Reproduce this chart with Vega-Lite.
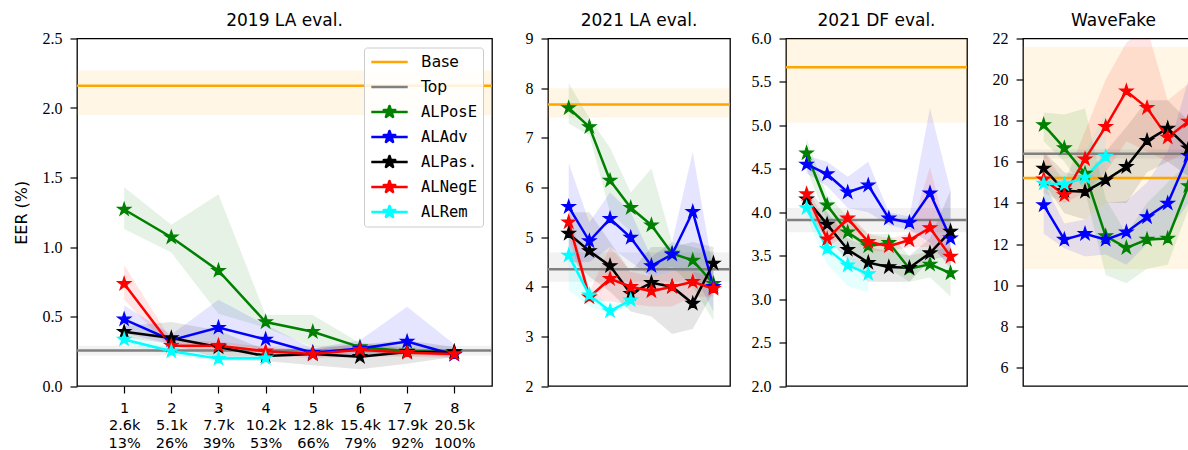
{
  "$schema": "https://vega.github.io/schema/vega-lite/v6.json",
  "padding": {"left": 12, "top": 10.5, "right": 0, "bottom": 0},
  "background": "white",
  "spacing": 16,
  "datasets": {
    "refs": [
      {"p": "LA19", "m": "Base", "y": 2.16, "lo": 1.95, "hi": 2.27},
      {"p": "LA19", "m": "Top", "y": 0.255, "lo": 0.22, "hi": 0.29},
      {"p": "LA21", "m": "Base", "y": 7.67, "lo": 7.41, "hi": 8.0},
      {"p": "LA21", "m": "Top", "y": 4.35, "lo": 4.1, "hi": 4.69},
      {"p": "DF21", "m": "Base", "y": 5.67, "lo": 5.03, "hi": 6.4},
      {"p": "DF21", "m": "Top", "y": 3.91, "lo": 3.77, "hi": 4.05},
      {"p": "WF", "m": "Base", "y": 15.21, "lo": 10.79, "hi": 21.6},
      {"p": "WF", "m": "Top", "y": 16.4, "lo": 16.17, "hi": 16.6}
    ],
    "runs": [
      {"p": "LA19", "m": "ALPosE", "x": 1, "y": 1.27, "lo": 1.13, "hi": 1.43},
      {"p": "LA19", "m": "ALPosE", "x": 2, "y": 1.07, "lo": 0.96, "hi": 1.16},
      {"p": "LA19", "m": "ALPosE", "x": 3, "y": 0.83, "lo": 0.52, "hi": 1.38},
      {"p": "LA19", "m": "ALPosE", "x": 4, "y": 0.46, "lo": 0.42, "hi": 0.51},
      {"p": "LA19", "m": "ALPosE", "x": 5, "y": 0.39, "lo": 0.28, "hi": 0.51},
      {"p": "LA19", "m": "ALPosE", "x": 6, "y": 0.28, "lo": 0.24, "hi": 0.31},
      {"p": "LA19", "m": "ALPosE", "x": 7, "y": 0.25, "lo": 0.22, "hi": 0.27},
      {"p": "LA19", "m": "ALPosE", "x": 8, "y": 0.245, "lo": 0.22, "hi": 0.26},
      {"p": "LA19", "m": "ALAdv", "x": 1, "y": 0.48, "lo": 0.38, "hi": 0.58},
      {"p": "LA19", "m": "ALAdv", "x": 2, "y": 0.33, "lo": 0.3, "hi": 0.37},
      {"p": "LA19", "m": "ALAdv", "x": 3, "y": 0.42, "lo": 0.3, "hi": 0.62},
      {"p": "LA19", "m": "ALAdv", "x": 4, "y": 0.335, "lo": 0.27, "hi": 0.44},
      {"p": "LA19", "m": "ALAdv", "x": 5, "y": 0.24, "lo": 0.21, "hi": 0.27},
      {"p": "LA19", "m": "ALAdv", "x": 6, "y": 0.27, "lo": 0.22, "hi": 0.33},
      {"p": "LA19", "m": "ALAdv", "x": 7, "y": 0.32, "lo": 0.25, "hi": 0.57},
      {"p": "LA19", "m": "ALAdv", "x": 8, "y": 0.225, "lo": 0.2, "hi": 0.3},
      {"p": "LA19", "m": "ALPas.", "x": 1, "y": 0.39, "lo": 0.35, "hi": 0.43},
      {"p": "LA19", "m": "ALPas.", "x": 2, "y": 0.345, "lo": 0.3, "hi": 0.46},
      {"p": "LA19", "m": "ALPas.", "x": 3, "y": 0.28, "lo": 0.2, "hi": 0.4},
      {"p": "LA19", "m": "ALPas.", "x": 4, "y": 0.215, "lo": 0.18, "hi": 0.26},
      {"p": "LA19", "m": "ALPas.", "x": 5, "y": 0.23, "lo": 0.15, "hi": 0.27},
      {"p": "LA19", "m": "ALPas.", "x": 6, "y": 0.21, "lo": 0.12, "hi": 0.3},
      {"p": "LA19", "m": "ALPas.", "x": 7, "y": 0.245, "lo": 0.16, "hi": 0.33},
      {"p": "LA19", "m": "ALPas.", "x": 8, "y": 0.245, "lo": 0.21, "hi": 0.28},
      {"p": "LA19", "m": "ALNegE", "x": 1, "y": 0.735, "lo": 0.62, "hi": 0.87},
      {"p": "LA19", "m": "ALNegE", "x": 2, "y": 0.29, "lo": 0.26, "hi": 0.33},
      {"p": "LA19", "m": "ALNegE", "x": 3, "y": 0.29, "lo": 0.26, "hi": 0.32},
      {"p": "LA19", "m": "ALNegE", "x": 4, "y": 0.25, "lo": 0.22, "hi": 0.28},
      {"p": "LA19", "m": "ALNegE", "x": 5, "y": 0.23, "lo": 0.2, "hi": 0.26},
      {"p": "LA19", "m": "ALNegE", "x": 6, "y": 0.26, "lo": 0.21, "hi": 0.31},
      {"p": "LA19", "m": "ALNegE", "x": 7, "y": 0.24, "lo": 0.21, "hi": 0.27},
      {"p": "LA19", "m": "ALNegE", "x": 8, "y": 0.23, "lo": 0.2, "hi": 0.26},
      {"p": "LA19", "m": "ALRem", "x": 1, "y": 0.335, "lo": 0.3, "hi": 0.37},
      {"p": "LA19", "m": "ALRem", "x": 2, "y": 0.25, "lo": 0.22, "hi": 0.28},
      {"p": "LA19", "m": "ALRem", "x": 3, "y": 0.197, "lo": 0.18, "hi": 0.22},
      {"p": "LA19", "m": "ALRem", "x": 4, "y": 0.2, "lo": 0.18, "hi": 0.22},

      {"p": "LA21", "m": "ALPosE", "x": 1, "y": 7.6, "lo": 7.29, "hi": 8.1},
      {"p": "LA21", "m": "ALPosE", "x": 2, "y": 7.22, "lo": 7.05, "hi": 7.4},
      {"p": "LA21", "m": "ALPosE", "x": 3, "y": 6.14, "lo": 5.5, "hi": 6.8},
      {"p": "LA21", "m": "ALPosE", "x": 4, "y": 5.59, "lo": 5.1, "hi": 5.9},
      {"p": "LA21", "m": "ALPosE", "x": 5, "y": 5.24, "lo": 4.3, "hi": 6.38},
      {"p": "LA21", "m": "ALPosE", "x": 6, "y": 4.67, "lo": 4.4, "hi": 4.9},
      {"p": "LA21", "m": "ALPosE", "x": 7, "y": 4.53, "lo": 4.0, "hi": 4.8},
      {"p": "LA21", "m": "ALPosE", "x": 8, "y": 4.06, "lo": 3.32, "hi": 4.7},
      {"p": "LA21", "m": "ALAdv", "x": 1, "y": 5.61, "lo": 4.5, "hi": 6.49},
      {"p": "LA21", "m": "ALAdv", "x": 2, "y": 4.92, "lo": 4.5, "hi": 5.3},
      {"p": "LA21", "m": "ALAdv", "x": 3, "y": 5.37, "lo": 4.8, "hi": 5.9},
      {"p": "LA21", "m": "ALAdv", "x": 4, "y": 4.99, "lo": 4.5, "hi": 5.5},
      {"p": "LA21", "m": "ALAdv", "x": 5, "y": 4.42, "lo": 4.2, "hi": 4.6},
      {"p": "LA21", "m": "ALAdv", "x": 6, "y": 4.65, "lo": 4.3, "hi": 4.9},
      {"p": "LA21", "m": "ALAdv", "x": 7, "y": 5.51, "lo": 4.3, "hi": 6.72},
      {"p": "LA21", "m": "ALAdv", "x": 8, "y": 4.0, "lo": 3.5, "hi": 4.3},
      {"p": "LA21", "m": "ALPas.", "x": 1, "y": 5.07, "lo": 4.6, "hi": 5.5},
      {"p": "LA21", "m": "ALPas.", "x": 2, "y": 4.72, "lo": 4.2, "hi": 5.5},
      {"p": "LA21", "m": "ALPas.", "x": 3, "y": 4.42, "lo": 3.9, "hi": 4.9},
      {"p": "LA21", "m": "ALPas.", "x": 4, "y": 3.86, "lo": 3.5, "hi": 4.3},
      {"p": "LA21", "m": "ALPas.", "x": 5, "y": 4.08, "lo": 3.4, "hi": 4.8},
      {"p": "LA21", "m": "ALPas.", "x": 6, "y": 4.0, "lo": 3.05, "hi": 4.8},
      {"p": "LA21", "m": "ALPas.", "x": 7, "y": 3.66, "lo": 3.15, "hi": 4.9},
      {"p": "LA21", "m": "ALPas.", "x": 8, "y": 4.47, "lo": 3.9, "hi": 4.8},
      {"p": "LA21", "m": "ALNegE", "x": 1, "y": 5.3, "lo": 5.0, "hi": 5.6},
      {"p": "LA21", "m": "ALNegE", "x": 2, "y": 3.79, "lo": 3.7, "hi": 3.9},
      {"p": "LA21", "m": "ALNegE", "x": 3, "y": 4.16, "lo": 3.7, "hi": 4.8},
      {"p": "LA21", "m": "ALNegE", "x": 4, "y": 4.0, "lo": 3.65, "hi": 4.3},
      {"p": "LA21", "m": "ALNegE", "x": 5, "y": 3.91, "lo": 3.6, "hi": 4.2},
      {"p": "LA21", "m": "ALNegE", "x": 6, "y": 4.0, "lo": 3.6, "hi": 4.3},
      {"p": "LA21", "m": "ALNegE", "x": 7, "y": 4.1, "lo": 3.8, "hi": 4.3},
      {"p": "LA21", "m": "ALNegE", "x": 8, "y": 3.96, "lo": 3.8, "hi": 4.2},
      {"p": "LA21", "m": "ALRem", "x": 1, "y": 4.63, "lo": 3.93, "hi": 5.0},
      {"p": "LA21", "m": "ALRem", "x": 2, "y": 3.83, "lo": 3.6, "hi": 4.0},
      {"p": "LA21", "m": "ALRem", "x": 3, "y": 3.51, "lo": 3.45, "hi": 3.6},
      {"p": "LA21", "m": "ALRem", "x": 4, "y": 3.73, "lo": 3.6, "hi": 3.85},

      {"p": "DF21", "m": "ALPosE", "x": 1, "y": 4.68, "lo": 4.5, "hi": 4.85},
      {"p": "DF21", "m": "ALPosE", "x": 2, "y": 4.08, "lo": 3.9, "hi": 4.2},
      {"p": "DF21", "m": "ALPosE", "x": 3, "y": 3.77, "lo": 3.6, "hi": 3.95},
      {"p": "DF21", "m": "ALPosE", "x": 4, "y": 3.61, "lo": 3.4, "hi": 3.75},
      {"p": "DF21", "m": "ALPosE", "x": 5, "y": 3.65, "lo": 3.35, "hi": 3.75},
      {"p": "DF21", "m": "ALPosE", "x": 6, "y": 3.35, "lo": 3.2, "hi": 3.5},
      {"p": "DF21", "m": "ALPosE", "x": 7, "y": 3.4, "lo": 3.25, "hi": 3.55},
      {"p": "DF21", "m": "ALPosE", "x": 8, "y": 3.3, "lo": 3.03, "hi": 3.6},
      {"p": "DF21", "m": "ALAdv", "x": 1, "y": 4.55, "lo": 4.45, "hi": 4.65},
      {"p": "DF21", "m": "ALAdv", "x": 2, "y": 4.44, "lo": 4.3, "hi": 4.58},
      {"p": "DF21", "m": "ALAdv", "x": 3, "y": 4.23, "lo": 4.05, "hi": 4.41},
      {"p": "DF21", "m": "ALAdv", "x": 4, "y": 4.31, "lo": 4.0, "hi": 4.58},
      {"p": "DF21", "m": "ALAdv", "x": 5, "y": 3.93, "lo": 3.85, "hi": 4.0},
      {"p": "DF21", "m": "ALAdv", "x": 6, "y": 3.88, "lo": 3.8, "hi": 3.95},
      {"p": "DF21", "m": "ALAdv", "x": 7, "y": 4.22, "lo": 3.65, "hi": 5.2},
      {"p": "DF21", "m": "ALAdv", "x": 8, "y": 3.7, "lo": 3.35, "hi": 4.25},
      {"p": "DF21", "m": "ALPas.", "x": 1, "y": 4.15, "lo": 4.0, "hi": 4.3},
      {"p": "DF21", "m": "ALPas.", "x": 2, "y": 3.86, "lo": 3.7, "hi": 4.0},
      {"p": "DF21", "m": "ALPas.", "x": 3, "y": 3.57, "lo": 3.45, "hi": 3.7},
      {"p": "DF21", "m": "ALPas.", "x": 4, "y": 3.42, "lo": 3.2, "hi": 3.6},
      {"p": "DF21", "m": "ALPas.", "x": 5, "y": 3.37, "lo": 3.2, "hi": 3.55},
      {"p": "DF21", "m": "ALPas.", "x": 6, "y": 3.36, "lo": 3.2, "hi": 3.5},
      {"p": "DF21", "m": "ALPas.", "x": 7, "y": 3.53, "lo": 3.45, "hi": 3.7},
      {"p": "DF21", "m": "ALPas.", "x": 8, "y": 3.78, "lo": 3.5, "hi": 4.25},
      {"p": "DF21", "m": "ALNegE", "x": 1, "y": 4.21, "lo": 4.1, "hi": 4.3},
      {"p": "DF21", "m": "ALNegE", "x": 2, "y": 3.69, "lo": 3.6, "hi": 3.85},
      {"p": "DF21", "m": "ALNegE", "x": 3, "y": 3.93, "lo": 3.75, "hi": 4.0},
      {"p": "DF21", "m": "ALNegE", "x": 4, "y": 3.66, "lo": 3.55, "hi": 3.75},
      {"p": "DF21", "m": "ALNegE", "x": 5, "y": 3.61, "lo": 3.55, "hi": 3.7},
      {"p": "DF21", "m": "ALNegE", "x": 6, "y": 3.68, "lo": 3.6, "hi": 3.75},
      {"p": "DF21", "m": "ALNegE", "x": 7, "y": 3.82, "lo": 3.6, "hi": 4.52},
      {"p": "DF21", "m": "ALNegE", "x": 8, "y": 3.49, "lo": 3.4, "hi": 3.6},
      {"p": "DF21", "m": "ALRem", "x": 1, "y": 4.05, "lo": 3.95, "hi": 4.15},
      {"p": "DF21", "m": "ALRem", "x": 2, "y": 3.58, "lo": 3.4, "hi": 3.7},
      {"p": "DF21", "m": "ALRem", "x": 3, "y": 3.39, "lo": 3.15, "hi": 3.5},
      {"p": "DF21", "m": "ALRem", "x": 4, "y": 3.29, "lo": 3.08, "hi": 3.4},

      {"p": "WF", "m": "ALPosE", "x": 1, "y": 17.8, "lo": 17.0, "hi": 18.4},
      {"p": "WF", "m": "ALPosE", "x": 2, "y": 16.67, "lo": 16.0, "hi": 18.3},
      {"p": "WF", "m": "ALPosE", "x": 3, "y": 15.43, "lo": 14.6, "hi": 18.6},
      {"p": "WF", "m": "ALPosE", "x": 4, "y": 12.39, "lo": 10.5, "hi": 14.2},
      {"p": "WF", "m": "ALPosE", "x": 5, "y": 11.82, "lo": 10.1, "hi": 12.5},
      {"p": "WF", "m": "ALPosE", "x": 6, "y": 12.22, "lo": 10.8, "hi": 14.0},
      {"p": "WF", "m": "ALPosE", "x": 7, "y": 12.27, "lo": 11.0, "hi": 15.0},
      {"p": "WF", "m": "ALPosE", "x": 8, "y": 14.83, "lo": 13.7, "hi": 16.0},
      {"p": "WF", "m": "ALAdv", "x": 1, "y": 13.9, "lo": 12.5, "hi": 15.0},
      {"p": "WF", "m": "ALAdv", "x": 2, "y": 12.22, "lo": 11.8, "hi": 13.0},
      {"p": "WF", "m": "ALAdv", "x": 3, "y": 12.5, "lo": 11.4, "hi": 13.2},
      {"p": "WF", "m": "ALAdv", "x": 4, "y": 12.22, "lo": 11.5, "hi": 14.0},
      {"p": "WF", "m": "ALAdv", "x": 5, "y": 12.58, "lo": 11.0, "hi": 14.1},
      {"p": "WF", "m": "ALAdv", "x": 6, "y": 13.32, "lo": 12.0, "hi": 15.0},
      {"p": "WF", "m": "ALAdv", "x": 7, "y": 13.98, "lo": 12.5, "hi": 16.5},
      {"p": "WF", "m": "ALAdv", "x": 8, "y": 16.3, "lo": 14.0, "hi": 20.0},
      {"p": "WF", "m": "ALPas.", "x": 1, "y": 15.68, "lo": 15.0, "hi": 16.5},
      {"p": "WF", "m": "ALPas.", "x": 2, "y": 14.59, "lo": 13.5, "hi": 15.5},
      {"p": "WF", "m": "ALPas.", "x": 3, "y": 14.55, "lo": 13.2, "hi": 15.3},
      {"p": "WF", "m": "ALPas.", "x": 4, "y": 15.11, "lo": 14.0, "hi": 16.5},
      {"p": "WF", "m": "ALPas.", "x": 5, "y": 15.76, "lo": 14.0, "hi": 17.7},
      {"p": "WF", "m": "ALPas.", "x": 6, "y": 17.03, "lo": 15.5, "hi": 19.0},
      {"p": "WF", "m": "ALPas.", "x": 7, "y": 17.63, "lo": 16.0, "hi": 19.0},
      {"p": "WF", "m": "ALPas.", "x": 8, "y": 16.66, "lo": 15.3, "hi": 18.0},
      {"p": "WF", "m": "ALNegE", "x": 1, "y": 15.16, "lo": 14.5, "hi": 16.5},
      {"p": "WF", "m": "ALNegE", "x": 2, "y": 14.39, "lo": 14.0, "hi": 15.0},
      {"p": "WF", "m": "ALNegE", "x": 3, "y": 16.13, "lo": 14.5, "hi": 17.5},
      {"p": "WF", "m": "ALNegE", "x": 4, "y": 17.71, "lo": 15.5, "hi": 20.0},
      {"p": "WF", "m": "ALNegE", "x": 5, "y": 19.44, "lo": 17.0, "hi": 21.8},
      {"p": "WF", "m": "ALNegE", "x": 6, "y": 18.63, "lo": 16.5, "hi": 22.5},
      {"p": "WF", "m": "ALNegE", "x": 7, "y": 17.19, "lo": 16.0, "hi": 19.0},
      {"p": "WF", "m": "ALNegE", "x": 8, "y": 17.97, "lo": 16.5, "hi": 19.8},
      {"p": "WF", "m": "ALRem", "x": 1, "y": 14.95, "lo": 14.0, "hi": 15.8},
      {"p": "WF", "m": "ALRem", "x": 2, "y": 14.91, "lo": 14.5, "hi": 15.3},
      {"p": "WF", "m": "ALRem", "x": 3, "y": 15.24, "lo": 14.8, "hi": 16.5},
      {"p": "WF", "m": "ALRem", "x": 4, "y": 16.26, "lo": 15.0, "hi": 18.4}
    ]
  },
  "hconcat": [
    {
      "width": 415, "height": 347.5,
      "title": {"text": "2019 LA eval."},
      "layer": [
        {"data": {"name": "refs"}, "transform": [{"filter": "datum.p == 'LA19'"}],
         "mark": {"type": "rect", "opacity": 0.1, "clip": true},
         "encoding": {
           "y": {"field": "lo", "type": "quantitative", "scale": {"domain": [0, 2.5], "nice": false, "zero": false},
                 "axis": {"values": [0, 0.5, 1, 1.5, 2, 2.5], "format": ".1f", "title": "EER (%)", "titlePadding": 10}},
           "y2": {"field": "hi"},
           "color": {"field": "m", "type": "nominal", "scale": {"domain": ["Base", "Top", "ALPosE", "ALAdv", "ALPas.", "ALNegE", "ALRem"], "range": ["#ffa500", "#808080", "#008000", "#0000ff", "#000000", "#ff0000", "#00ffff"]},
                     "legend": {"encoding": {
                       "symbols": {
                         "shape": {"value": {"expr": "datum.value == 'Base' || datum.value == 'Top' ? 'M-2.6,0H2.6' : 'M-2.6,0H2.6M0,-0.85L0.191,-0.263L0.808,-0.263L0.309,0.1L0.5,0.688L0,0.325L-0.5,0.688L-0.309,0.1L-0.808,-0.263L-0.191,-0.263Z'"}},
                         "fill": {"value": {"expr": "scale('color', datum.value)"}},
                         "stroke": {"value": {"expr": "scale('color', datum.value)"}},
                         "strokeJoin": {"value": "round"},
                         "opacity": {"value": 1}, "fillOpacity": {"value": 1}, "strokeOpacity": {"value": 1}, "strokeWidth": {"value": 2.7}},
                       "labels": {"font": {"value": {"expr": "indexof(datum.value, 'AL') == 0 ? 'DejaVu Sans Mono' : 'DejaVu Sans'"}}}}}}
         }},
        {"data": {"name": "runs"}, "transform": [{"filter": "datum.p == 'LA19'"}],
         "mark": {"type": "area", "opacity": 0.1, "clip": true},
         "encoding": {
           "x": {"field": "x", "type": "quantitative", "scale": {"domain": [0, 8.8], "nice": false, "zero": false},
                 "axis": {"values": [1, 2, 3, 4, 5, 6, 7, 8], "title": null, "labelFont": "DejaVu Sans", "labelFontSize": 14.5, "labelLineHeight": 17.5, "labelOverlap": false, "labelFlush": false, "labelBound": false,
                          "labelExpr": "[format(datum.value, 'd'), ['2.6k','5.1k','7.7k','10.2k','12.8k','15.4k','17.9k','20.5k'][datum.value - 1], ['13%','26%','39%','53%','66%','79%','92%','100%'][datum.value - 1]]"}},
           "y": {"field": "lo", "type": "quantitative"},
           "y2": {"field": "hi"},
           "color": {"field": "m", "type": "nominal"}
         }},
        {"data": {"name": "refs"}, "transform": [{"filter": "datum.p == 'LA19'"}],
         "mark": {"type": "rule", "strokeWidth": 2.5, "clip": true},
         "encoding": {"y": {"field": "y", "type": "quantitative"}, "color": {"field": "m", "type": "nominal"}}},
        {"data": {"name": "runs"}, "transform": [{"filter": "datum.p == 'LA19'"}],
         "mark": {"type": "line", "strokeWidth": 2.5, "clip": true},
         "encoding": {"x": {"field": "x", "type": "quantitative"}, "y": {"field": "y", "type": "quantitative"}, "color": {"field": "m", "type": "nominal"}}},
        {"data": {"name": "runs"}, "transform": [{"filter": "datum.p == 'LA19'"}],
         "mark": {"type": "point", "shape": "M0,-1L0.2245,-0.309L0.951,-0.309L0.363,0.118L0.588,0.809L0,0.382L-0.588,0.809L-0.363,0.118L-0.951,-0.309L-0.2245,-0.309Z", "filled": true, "size": 190, "opacity": 1, "strokeWidth": 1.2, "clip": true},
         "encoding": {"x": {"field": "x", "type": "quantitative"}, "y": {"field": "y", "type": "quantitative"}, "color": {"field": "m", "type": "nominal"},
                      "stroke": {"field": "m", "type": "nominal", "legend": null, "scale": {"domain": ["Base", "Top", "ALPosE", "ALAdv", "ALPas.", "ALNegE", "ALRem"], "range": ["#ffa500", "#808080", "#008000", "#0000ff", "#000000", "#ff0000", "#00ffff"]}}}}
      ]
    },
    {
      "width": 182, "height": 347.5,
      "title": {"text": "2021 LA eval."},
      "layer": [
        {"data": {"name": "refs"}, "transform": [{"filter": "datum.p == 'LA21'"}],
         "mark": {"type": "rect", "opacity": 0.1, "clip": true},
         "encoding": {
           "y": {"field": "lo", "type": "quantitative", "scale": {"domain": [2, 9], "nice": false, "zero": false},
                 "axis": {"values": [2, 3, 4, 5, 6, 7, 8, 9], "format": "d", "title": null}},
           "y2": {"field": "hi"},
           "color": {"field": "m", "type": "nominal", "legend": null}
         }},
        {"data": {"name": "runs"}, "transform": [{"filter": "datum.p == 'LA21'"}],
         "mark": {"type": "area", "opacity": 0.1, "clip": true},
         "encoding": {
           "x": {"field": "x", "type": "quantitative", "scale": {"domain": [0, 8.8], "nice": false, "zero": false}, "axis": null},
           "y": {"field": "lo", "type": "quantitative"}, "y2": {"field": "hi"},
           "color": {"field": "m", "type": "nominal", "legend": null}
         }},
        {"data": {"name": "refs"}, "transform": [{"filter": "datum.p == 'LA21'"}],
         "mark": {"type": "rule", "strokeWidth": 2.5, "clip": true},
         "encoding": {"y": {"field": "y", "type": "quantitative"}, "color": {"field": "m", "type": "nominal", "legend": null}}},
        {"data": {"name": "runs"}, "transform": [{"filter": "datum.p == 'LA21'"}],
         "mark": {"type": "line", "strokeWidth": 2.5, "clip": true},
         "encoding": {"x": {"field": "x", "type": "quantitative"}, "y": {"field": "y", "type": "quantitative"}, "color": {"field": "m", "type": "nominal", "legend": null}}},
        {"data": {"name": "runs"}, "transform": [{"filter": "datum.p == 'LA21'"}],
         "mark": {"type": "point", "shape": "M0,-1L0.2245,-0.309L0.951,-0.309L0.363,0.118L0.588,0.809L0,0.382L-0.588,0.809L-0.363,0.118L-0.951,-0.309L-0.2245,-0.309Z", "filled": true, "size": 190, "opacity": 1, "strokeWidth": 1.2, "clip": true},
         "encoding": {"x": {"field": "x", "type": "quantitative"}, "y": {"field": "y", "type": "quantitative"}, "color": {"field": "m", "type": "nominal", "legend": null}, "stroke": {"field": "m", "type": "nominal", "legend": null}}}
      ]
    },
    {
      "width": 181, "height": 347.5,
      "title": {"text": "2021 DF eval."},
      "layer": [
        {"data": {"name": "refs"}, "transform": [{"filter": "datum.p == 'DF21'"}],
         "mark": {"type": "rect", "opacity": 0.1, "clip": true},
         "encoding": {
           "y": {"field": "lo", "type": "quantitative", "scale": {"domain": [2, 6], "nice": false, "zero": false},
                 "axis": {"values": [2, 2.5, 3, 3.5, 4, 4.5, 5, 5.5, 6], "format": ".1f", "title": null}},
           "y2": {"field": "hi"},
           "color": {"field": "m", "type": "nominal", "legend": null}
         }},
        {"data": {"name": "runs"}, "transform": [{"filter": "datum.p == 'DF21'"}],
         "mark": {"type": "area", "opacity": 0.1, "clip": true},
         "encoding": {
           "x": {"field": "x", "type": "quantitative", "scale": {"domain": [0, 8.8], "nice": false, "zero": false}, "axis": null},
           "y": {"field": "lo", "type": "quantitative"}, "y2": {"field": "hi"},
           "color": {"field": "m", "type": "nominal", "legend": null}
         }},
        {"data": {"name": "refs"}, "transform": [{"filter": "datum.p == 'DF21'"}],
         "mark": {"type": "rule", "strokeWidth": 2.5, "clip": true},
         "encoding": {"y": {"field": "y", "type": "quantitative"}, "color": {"field": "m", "type": "nominal", "legend": null}}},
        {"data": {"name": "runs"}, "transform": [{"filter": "datum.p == 'DF21'"}],
         "mark": {"type": "line", "strokeWidth": 2.5, "clip": true},
         "encoding": {"x": {"field": "x", "type": "quantitative"}, "y": {"field": "y", "type": "quantitative"}, "color": {"field": "m", "type": "nominal", "legend": null}}},
        {"data": {"name": "runs"}, "transform": [{"filter": "datum.p == 'DF21'"}],
         "mark": {"type": "point", "shape": "M0,-1L0.2245,-0.309L0.951,-0.309L0.363,0.118L0.588,0.809L0,0.382L-0.588,0.809L-0.363,0.118L-0.951,-0.309L-0.2245,-0.309Z", "filled": true, "size": 190, "opacity": 1, "strokeWidth": 1.2, "clip": true},
         "encoding": {"x": {"field": "x", "type": "quantitative"}, "y": {"field": "y", "type": "quantitative"}, "color": {"field": "m", "type": "nominal", "legend": null}, "stroke": {"field": "m", "type": "nominal", "legend": null}}}
      ]
    },
    {
      "width": 172, "height": 347.5,
      "title": {"text": "WaveFake", "dx": 4.5},
      "layer": [
        {"data": {"name": "refs"}, "transform": [{"filter": "datum.p == 'WF'"}],
         "mark": {"type": "rect", "opacity": 0.1, "clip": true},
         "encoding": {
           "y": {"field": "lo", "type": "quantitative", "scale": {"domain": [5.1, 22], "nice": false, "zero": false},
                 "axis": {"values": [6, 8, 10, 12, 14, 16, 18, 20, 22], "format": "d", "title": null}},
           "y2": {"field": "hi"},
           "color": {"field": "m", "type": "nominal", "legend": null}
         }},
        {"data": {"name": "runs"}, "transform": [{"filter": "datum.p == 'WF'"}],
         "mark": {"type": "area", "opacity": 0.1, "clip": true},
         "encoding": {
           "x": {"field": "x", "type": "quantitative", "scale": {"domain": [0, 8.32], "nice": false, "zero": false}, "axis": null},
           "y": {"field": "lo", "type": "quantitative"}, "y2": {"field": "hi"},
           "color": {"field": "m", "type": "nominal", "legend": null}
         }},
        {"data": {"name": "refs"}, "transform": [{"filter": "datum.p == 'WF'"}],
         "mark": {"type": "rule", "strokeWidth": 2.5, "clip": true},
         "encoding": {"y": {"field": "y", "type": "quantitative"}, "color": {"field": "m", "type": "nominal", "legend": null}}},
        {"data": {"name": "runs"}, "transform": [{"filter": "datum.p == 'WF'"}],
         "mark": {"type": "line", "strokeWidth": 2.5, "clip": true},
         "encoding": {"x": {"field": "x", "type": "quantitative"}, "y": {"field": "y", "type": "quantitative"}, "color": {"field": "m", "type": "nominal", "legend": null}}},
        {"data": {"name": "runs"}, "transform": [{"filter": "datum.p == 'WF'"}],
         "mark": {"type": "point", "shape": "M0,-1L0.2245,-0.309L0.951,-0.309L0.363,0.118L0.588,0.809L0,0.382L-0.588,0.809L-0.363,0.118L-0.951,-0.309L-0.2245,-0.309Z", "filled": true, "size": 190, "opacity": 1, "strokeWidth": 1.2, "clip": true},
         "encoding": {"x": {"field": "x", "type": "quantitative"}, "y": {"field": "y", "type": "quantitative"}, "color": {"field": "m", "type": "nominal", "legend": null}, "stroke": {"field": "m", "type": "nominal", "legend": null}}}
      ]
    }
  ],
  "resolve": {"legend": {"color": "independent"}},
  "config": {
    "view": {"stroke": "black", "strokeWidth": 1.3},
    "title": {"font": "DejaVu Sans", "fontSize": 17, "fontWeight": "normal", "color": "black", "offset": 0.6},
    "axis": {"domain": false, "grid": false, "ticks": true, "tickColor": "black", "tickSize": 7, "tickWidth": 1.2,
             "labelFont": "Liberation Serif", "labelFontSize": 16, "labelColor": "black", "labelPadding": 8,
             "titleFont": "DejaVu Sans", "titleFontSize": 16, "titleFontWeight": "normal", "titleColor": "black"},
    "axisY": {"minExtent": 38, "maxExtent": 38},
    "legend": {
      "orient": "top-right", "offset": 9, "title": null,
      "padding": 6, "cornerRadius": 3, "strokeColor": "#cccccc", "fillColor": "rgba(255,255,255,0.85)",
      "symbolSize": 196, "symbolStrokeWidth": 2.7, "symbolOffset": 11, "labelOffset": 23, "rowPadding": 8,
      "labelFont": "DejaVu Sans", "labelFontSize": 15.5, "labelColor": "black"
    }
  }
}
